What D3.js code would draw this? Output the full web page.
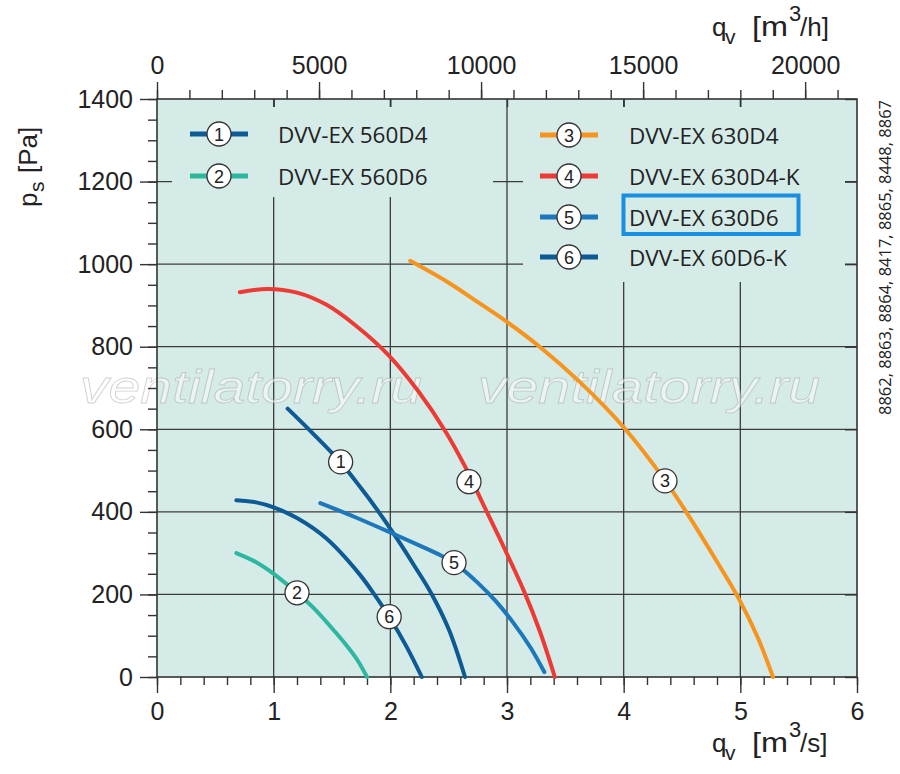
<!DOCTYPE html>
<html><head><meta charset="utf-8">
<script src="https://cdn.jsdelivr.net/npm/d3@7"></script>
<style>body{margin:0;background:#fff}svg{display:block}</style>
</head><body>
<svg id="c" width="900" height="774"></svg>
<script>
// ---- data ----
const seriesIds = ["1","2","3","4","5","6"];
const seriesNames = ["DVV-EX 560D4","DVV-EX 560D6","DVV-EX 630D4","DVV-EX 630D4-K","DVV-EX 630D6","DVV-EX 60D6-K"];
const seriesColors = ["#0d5a94","#2db7a0","#f7941d","#ec3b35","#1d77bb","#0d5a94"];
const curve1 = [[1.12,650],[1.35,586],[1.57,521],[1.75,457],[1.9,400],[2.05,338],[2.2,272],[2.35,203],[2.5,116],[2.64,0]];
const curve2 = [[0.68,300],[0.85,278],[1.0,250],[1.2,204],[1.35,165],[1.5,118],[1.62,78],[1.72,40],[1.80,0]];
const curve3 = [[2.17,1008],[2.5,955],[2.75,908],[3.0,860],[3.28,800],[3.63,713],[4.0,605],[4.35,478],[4.54,398],[4.77,293],[4.99,188],[5.15,95],[5.28,0]];
const curve4 = [[0.71,932],[0.95,940],[1.2,931],[1.45,902],[1.7,852],[1.99,778],[2.24,692],[2.47,596],[2.64,510],[2.81,410],[2.98,310],[3.15,205],[3.28,112],[3.41,0]];
const curve5 = [[1.40,421],[1.7,387],[2.04,345],[2.3,312],[2.45,292],[2.6,265],[2.75,228],[2.9,185],[3.05,133],[3.2,72],[3.32,12]];
const curve6 = [[0.68,428],[0.85,423],[1.0,411],[1.2,385],[1.45,336],[1.73,251],[1.87,197],[1.99,146],[2.14,73],[2.27,0]];
const curves = [curve1,curve2,curve3,curve4,curve5,curve6];
const labelPos = [[1.574,521],[1.2,204],[4.354,475],[2.674,473],[2.546,277],[1.99,146]];
const xTicks = [0,1,2,3,4,5,6];
const yTicks = [0,200,400,600,800,1000,1200,1400];
const topTicks = [0,5000,10000,15000,20000];
const sideNote = "8862, 8863, 8864, 8417, 8865, 8448, 8867";
const watermark = "ventilatorry.ru";

// ---- layout ----
const svg = d3.select("#c");
const L=157,R=857,T=99,B=677;
const x = d3.scaleLinear().domain([0,6]).range([L,R]);
const y = d3.scaleLinear().domain([0,1400]).range([B,T]);
const xh = d3.scaleLinear().domain([0,6*3600]).range([L,R]);
const bg = "#d5ebe7", ink="#333", font="'Liberation Sans', Arial, sans-serif";

svg.append("rect").attr("x",L).attr("y",T).attr("width",R-L).attr("height",B-T).attr("fill",bg);

// grid
const g = svg.append("g").attr("stroke","#3c3c3c").attr("stroke-width",1.3);
xTicks.slice(1,-1).forEach(v=>g.append("line").attr("x1",x(v)).attr("x2",x(v)).attr("y1",T).attr("y2",B));
yTicks.slice(1,-1).forEach(v=>g.append("line").attr("x1",L).attr("x2",R).attr("y1",y(v)).attr("y2",y(v)));
// legend masks
svg.append("rect").attr("x",172).attr("y",107).attr("width",493-172).attr("height",197-107).attr("fill",bg);
svg.append("rect").attr("x",523).attr("y",107).attr("width",845-523).attr("height",282-107).attr("fill",bg);

// watermark
[80,478].forEach(px=>svg.append("text").attr("x",px).attr("y",403).text(watermark)
  .attr("font-family",font).attr("font-style","italic").attr("font-size",46)
  .attr("textLength",342).attr("lengthAdjust","spacingAndGlyphs")
  .attr("fill","rgba(255,255,255,0.5)").attr("stroke","rgba(140,140,140,0.4)").attr("stroke-width",0.8));

// axes
function styleAxis(sel){sel.select(".domain").remove();sel.selectAll("line").attr("stroke",ink).attr("stroke-width",1.4);
  sel.selectAll("text").attr("font-family",font).attr("font-size",25).attr("fill","#222");}
svg.append("g").attr("transform",`translate(0,${B})`).call(d3.axisBottom(x).tickValues(d3.range(0,6.01,0.2)).tickSize(8).tickFormat("")).call(styleAxis);
svg.append("g").attr("transform",`translate(0,${B})`).call(d3.axisBottom(x).tickValues(xTicks).tickSize(16).tickPadding(9).tickFormat(d3.format("d"))).call(styleAxis);
svg.append("g").attr("transform",`translate(${L},0)`).call(d3.axisLeft(y).tickValues(d3.range(0,1401,50)).tickSize(9).tickFormat("")).call(styleAxis);
svg.append("g").attr("transform",`translate(${L},0)`).call(d3.axisLeft(y).tickValues(yTicks).tickSize(17).tickPadding(7).tickFormat(d3.format("d"))).call(styleAxis);
svg.append("g").attr("transform",`translate(0,${T})`).call(d3.axisTop(xh).tickValues(d3.range(0,21001,1000)).tickSize(9).tickFormat("")).call(styleAxis);
svg.append("g").attr("transform",`translate(0,${T})`).call(d3.axisTop(xh).tickValues(topTicks).tickSize(17).tickPadding(8).tickFormat(d3.format("d"))).call(styleAxis);
svg.append("g").attr("transform",`translate(0,${T})`).call(d3.axisBottom(x).tickValues(xTicks.slice(1,-1)).tickSize(8).tickFormat("")).call(styleAxis);
svg.append("g").attr("transform",`translate(${R},0)`).call(d3.axisLeft(y).tickValues(yTicks).tickSize(12).tickFormat("")).call(styleAxis);
svg.append("rect").attr("x",L).attr("y",T).attr("width",R-L).attr("height",B-T).attr("fill","none").attr("stroke",ink).attr("stroke-width",1.6);

// curves
const line = d3.line().x(d=>x(d[0])).y(d=>y(d[1])).curve(d3.curveCatmullRom.alpha(0.5));
curves.forEach((c,i)=>svg.append("path").attr("d",line(c)).attr("fill","none")
  .attr("stroke",seriesColors[i]).attr("stroke-width",4).attr("stroke-linecap","round"));

function badge(cx,cy,t){
  svg.append("circle").attr("cx",cx).attr("cy",cy).attr("r",12).attr("fill","#fff").attr("stroke","#333").attr("stroke-width",1.3);
  svg.append("text").attr("x",cx).attr("y",cy+6.5).attr("text-anchor","middle").attr("font-family",font).attr("font-size",18).attr("fill","#222").text(t);
}
labelPos.forEach((p,i)=>badge(x(p[0]),y(p[1]),seriesIds[i]));

// legend
const legPos = [[190,134],[190,176],[540,135],[540,176],[540,217],[540,257]];
seriesNames.forEach((n,i)=>{
  const [lx,ly]=legPos[i];
  svg.append("line").attr("x1",lx).attr("x2",lx+58).attr("y1",ly).attr("y2",ly).attr("stroke",seriesColors[i]).attr("stroke-width",5);
  badge(lx+29,ly,seriesIds[i]);
  svg.append("text").attr("x",lx+(i<2?88:89)).attr("y",ly+9).attr("font-family","'Open Sans', sans-serif").attr("font-size",22.5)
    .attr("fill","#222").text(n);
});
svg.append("rect").attr("x",623.5).attr("y",195.5).attr("width",175).attr("height",38.5).attr("fill","none").attr("stroke","#1a8fe0").attr("stroke-width",4);

// axis titles
function unitTitle(x0,base,unit){
  const t=svg.append("text").attr("font-family",font).attr("fill","#222");
  t.append("tspan").attr("x",x0).attr("y",base).attr("font-size",26).text("q");
  t.append("tspan").attr("x",x0+13).attr("y",base+8).attr("font-size",21).text("v");
  t.append("tspan").attr("x",x0+40).attr("y",base).attr("font-size",27)
    .attr("textLength",36).attr("lengthAdjust","spacingAndGlyphs").text("[m");
  t.append("tspan").attr("x",x0+77).attr("y",base-15).attr("font-size",22).text("3");
  t.append("tspan").attr("x",x0+88).attr("y",base).attr("font-size",26).text(unit);
}
unitTitle(712,36,"/h]");
unitTitle(712,752,"/s]");
const pt=svg.append("text").attr("transform","translate(37,207) rotate(-90)").attr("font-family",font).attr("fill","#222");
pt.append("tspan").attr("x",0).attr("y",0).attr("font-size",26).text("p");
pt.append("tspan").attr("x",15).attr("y",7).attr("font-size",21).text("s");
pt.append("tspan").attr("x",34).attr("y",0).attr("font-size",26).text("[Pa]");

svg.append("text").attr("transform","translate(891,415) rotate(-90)").attr("font-family","'Open Sans', sans-serif")
  .attr("font-size",17).attr("textLength",315).attr("lengthAdjust","spacingAndGlyphs").attr("fill","#222").text(sideNote);
</script>
</body></html>
